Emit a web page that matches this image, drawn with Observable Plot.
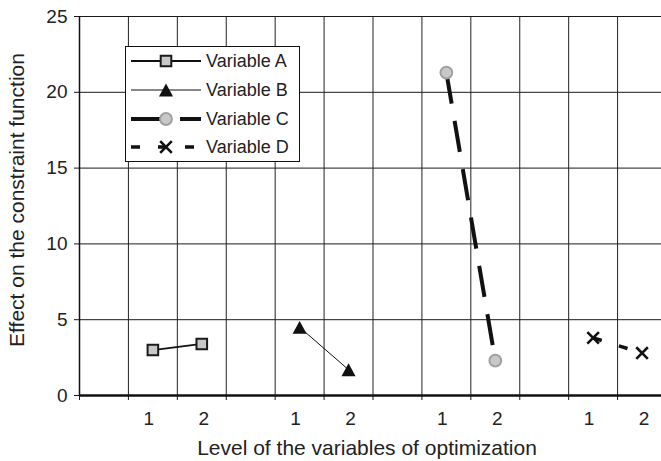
<!DOCTYPE html>
<html><head><meta charset="utf-8">
<script src="https://cdn.jsdelivr.net/npm/d3@7"></script>
<script src="https://cdn.jsdelivr.net/npm/@observablehq/plot@0.6"></script>
<style>
body{margin:0;background:#fff;overflow:hidden}
#wrap{position:relative;width:661px;height:461px;overflow:hidden;font-family:"Liberation Sans",Arial,sans-serif}
#wrap svg g[aria-label="y-axis tick label"], #wrap svg g[aria-label="x-axis tick label"]{font-size:19px}
#legend{position:absolute;left:125px;top:46px;width:175px;height:116px;box-sizing:border-box;border:1px solid #111;background:#fff}
#legend .sw{position:absolute;left:5px}
#legend .tx{position:absolute;left:80px;font-size:18px;line-height:20px;color:#222;white-space:nowrap}
</style>
</head><body><div id="wrap"><div id="legend"></div></div>
<script>
// ---- data ----
const xLabels = ["", "1", "2", "", "1", "2", "", "1", "2", "", "1", "2"];
const seriesNames = ["Variable A", "Variable B", "Variable C", "Variable D"];
const levelA = [3.0, 3.4];
const levelB = [4.5, 1.7];
const levelC = [21.3, 2.3];
const levelD = [3.8, 2.8];
const yTicks = [0, 5, 10, 15, 20, 25];
const xTitle = "Level of the variables of optimization";
const yTitle = "Effect on the constraint function";

const seriesValues = [levelA, levelB, levelC, levelD];
// each series occupies categories 3k+1 and 3k+2 (labels "1" and "2")
const rows = seriesValues.flatMap((vals, k) =>
  vals.map((v, j) => ({series: seriesNames[k], cat: 3 * k + 1 + j, x: 3 * k + 1 + j + 0.5, y: v})));

// ---- symbols ----
const rad = size => Math.sqrt(size / Math.PI);
const symSquare = {draw(c, s) { const r = rad(s); c.rect(-r, -r, 2 * r, 2 * r); }};
const symTri = {draw(c, s) { const r = rad(s); c.moveTo(0, -r); c.lineTo(r * 1.1, r); c.lineTo(-r * 1.1, r); c.closePath(); }};
const symX = {draw(c, s) { const r = rad(s); c.moveTo(-r, -r); c.lineTo(r, r); c.moveTo(r, -r); c.lineTo(-r, r); }};

const styles = [
  {lineWidth: 1.8, dash: null, symbol: symSquare, r: 5.3, fill: "#c8c8c8", mstroke: "#1a1a1a", mwidth: 2},
  {lineWidth: 1, dash: null, symbol: symTri, r: 6.4, fill: "#111", mstroke: "none", mwidth: 0},
  {lineWidth: 4, dash: "31.5,17.5", symbol: "circle", r: 5.9, fill: "#c8c8c8", mstroke: "#a0a0a0", mwidth: 2},
  {lineWidth: 3.6, dash: "9,18", symbol: symX, r: 5.8, fill: "none", mstroke: "#111", mwidth: 2.6}
];

const lineMarks = seriesNames.map((name, k) => Plot.line(rows.filter(d => d.series === name), {
  x: "x", y: "y", stroke: "#111", strokeWidth: styles[k].lineWidth,
  strokeDasharray: styles[k].dash || undefined, strokeLinecap: "butt"
}));
const dotMarks = seriesNames.map((name, k) => Plot.dot(rows.filter(d => d.series === name), {
  x: "x", y: "y", symbol: styles[k].symbol, r: styles[k].r, fill: styles[k].fill,
  stroke: styles[k].mstroke, strokeWidth: styles[k].mwidth
}));

const ones = xLabels.map((l, i) => l === "1" ? i + 0.5 : null).filter(v => v !== null);
const twos = xLabels.map((l, i) => l === "2" ? i + 0.5 : null).filter(v => v !== null);
const labelOf = d => xLabels[Math.floor(d)];

const chart = Plot.plot({
  width: 661, height: 461,
  marginLeft: 79, marginRight: -5, marginTop: 16, marginBottom: 66,
  style: {fontFamily: '"Liberation Sans", Arial, sans-serif', fontSize: "19px", color: "#1a1a1a", background: "#fff"},
  x: {domain: [0, xLabels.length]},
  y: {domain: [0, 25]},
  marks: [
    Plot.gridY(yTicks.slice(1), {stroke: "#1a1a1a", strokeOpacity: 1, strokeWidth: 1}),
    Plot.gridX(d3.range(1, xLabels.length), {stroke: "#222", strokeOpacity: 1, strokeWidth: 1}),
    Plot.axisY({ticks: yTicks, tickSize: 5, tickPadding: 7, fontSize: 19, label: null, fill: "#222"}),
    Plot.axisX({ticks: d3.range(0, xLabels.length + 1), tickSize: 5, tickFormat: () => "", label: null}),
    Plot.axisX({ticks: ones, tickSize: 0, tickPadding: 16, tickFormat: labelOf, fontSize: 19, dx: -4, label: null, fill: "#222"}),
    Plot.axisX({ticks: twos, tickSize: 0, tickPadding: 16, tickFormat: labelOf, fontSize: 19, dx: 2, label: null, fill: "#222"}),
    Plot.ruleX([0], {stroke: "#111", strokeWidth: 1.5}),
    Plot.ruleY([0], {stroke: "#111", strokeWidth: 2.3}),
    Plot.text([xTitle], {text: d => d, frameAnchor: "bottom", textAnchor: "middle", lineAnchor: "top", dx: -6, dy: 44.5, fontSize: 21, fill: "#222"}),
    Plot.text([yTitle], {text: d => d, frameAnchor: "left", textAnchor: "middle", lineAnchor: "middle", rotate: -90, dx: -62.5, dy: -6, fontSize: 21, fill: "#222"}),
    ...lineMarks,
    ...dotMarks
  ]
});
const wrap = document.getElementById("wrap");
wrap.insertBefore(chart, wrap.firstChild);

// ---- legend (overlay inside plot area, as in the reference) ----
const legend = document.getElementById("legend");
seriesNames.forEach((name, k) => {
  const st = styles[k];
  const cy = 14.3 + 28.6 * k;
  const sym = st.symbol === "circle" ? d3.symbolCircle : st.symbol;
  const path = d3.symbol(sym, st.r * st.r * Math.PI)();
  const sw = document.createElement("div");
  sw.className = "sw";
  sw.style.top = (cy - 10) + "px";
  sw.innerHTML = `<svg width="70" height="20" style="display:block;overflow:visible">
    <line x1="0" y1="10" x2="70" y2="10" stroke="#111" stroke-width="${st.lineWidth}" ${st.dash ? `stroke-dasharray="${st.dash}"` : ""}/>
    <path d="${path}" transform="translate(35,10)" fill="${st.fill}" stroke="${st.mstroke}" stroke-width="${st.mwidth}"/>
  </svg>`;
  legend.appendChild(sw);
  const tx = document.createElement("div");
  tx.className = "tx";
  tx.style.top = (cy - 10) + "px";
  tx.textContent = name;
  legend.appendChild(tx);
});
</script>
</body></html>
